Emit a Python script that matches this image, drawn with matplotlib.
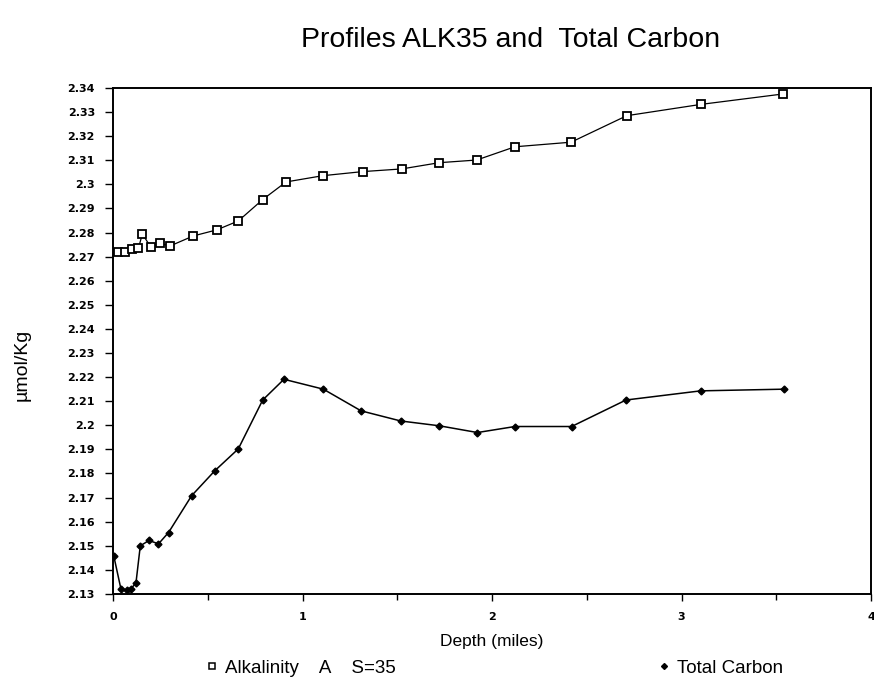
import matplotlib
matplotlib.use('Agg')
import matplotlib.pyplot as plt
from matplotlib.lines import Line2D

plt.rcParams['font.family'] = ['Liberation Sans', 'DejaVu Sans']

# depth (miles) of each sample
alk_depth = [0.028, 0.063, 0.099, 0.134, 0.155, 0.20, 0.248, 0.30, 0.424, 0.547, 0.661,
             0.79, 0.913, 1.107, 1.318, 1.523, 1.722, 1.919, 2.121, 2.417, 2.711, 3.103, 3.534]
alk_vals = [2.2721, 2.2718, 2.2731, 2.2735, 2.2794, 2.2739, 2.2756, 2.2744, 2.2786, 2.2811, 2.2848,
            2.2937, 2.3010, 2.3036, 2.3053, 2.3064, 2.3090, 2.3101, 2.3156, 2.3175, 2.3285, 2.3332, 2.3375]

tc_depth = [0.004, 0.042, 0.072, 0.095, 0.121, 0.144, 0.19, 0.24, 0.293, 0.415, 0.538, 0.661,
            0.79, 0.902, 1.11, 1.309, 1.518, 1.722, 1.923, 2.121, 2.42, 2.707, 3.101, 3.541]
tc_vals = [2.1458, 2.1320, 2.1317, 2.1322, 2.1345, 2.1500, 2.1522, 2.1508, 2.1555, 2.1708, 2.1812, 2.1902,
           2.2105, 2.2191, 2.2150, 2.2060, 2.2018, 2.1998, 2.1970, 2.1995, 2.1995, 2.2105, 2.2143, 2.2150]

y_ticks = [round(2.13 + 0.01 * i, 2) for i in range(22)]
x_ticks = [0, 1, 2, 3, 4]

fig = plt.figure(figsize=(8.74, 6.81), dpi=100)
ax = fig.add_axes([0.1293, 0.1278, 0.8673, 0.7430])

ax.plot(alk_depth, alk_vals, color='black', lw=0.9, marker='s', markersize=5.8,
        markerfacecolor='white', markeredgecolor='black', markeredgewidth=1.3)
ax.plot(tc_depth, tc_vals, color='black', lw=1.1, marker='D', markersize=3.5,
        markerfacecolor='black', markeredgecolor='black')

ax.set_xlim(0, 4)
ax.set_ylim(2.13, 2.34)
ax.set_xticks(x_ticks)
ax.set_xticks([0.5, 1.5, 2.5, 3.5], minor=True)
ax.set_xticklabels([str(t) for t in x_ticks])
ax.set_yticks(y_ticks)
ax.set_yticklabels([f'{t:g}' for t in y_ticks])

ax.tick_params(axis='both', which='both', direction='out', width=1.0, labelsize=8)
ax.tick_params(axis='y', length=6, pad=7)
ax.tick_params(axis='x', which='major', length=5, pad=8)
ax.tick_params(axis='x', which='minor', length=4)
for lab in ax.get_xticklabels() + ax.get_yticklabels():
    lab.set_fontweight('bold')
    lab.set_family('DejaVu Sans')
for s in ax.spines.values():
    s.set_linewidth(1.4)

ax.set_xlabel('Depth (miles)', fontsize=12.5)
ax.xaxis.set_label_coords(0.5, -0.079)

fig.text(22 / 874, 1 - 365 / 681, 'µmol/Kg', fontsize=14, rotation=90,
         ha='center', va='center')
fig.text(0.584, 1 - 40 / 681, 'Profiles ALK35 and  Total Carbon', fontsize=20.5,
         ha='center', va='center')

handles = [
    Line2D([], [], linestyle='none', marker='s', markersize=5, markerfacecolor='white',
           markeredgecolor='black', markeredgewidth=1.1),
    Line2D([], [], linestyle='none', marker='D', markersize=3, markerfacecolor='black',
           markeredgecolor='black'),
]
fig.legend(handles, ['Alkalinity    A    S=35', 'Total Carbon'], loc='center',
           bbox_to_anchor=(0.566, 0.019), ncol=2, frameon=False, fontsize=13.5,
           handlelength=0.6, handletextpad=0.4, columnspacing=14)

fig.savefig('out.png', dpi=100)
